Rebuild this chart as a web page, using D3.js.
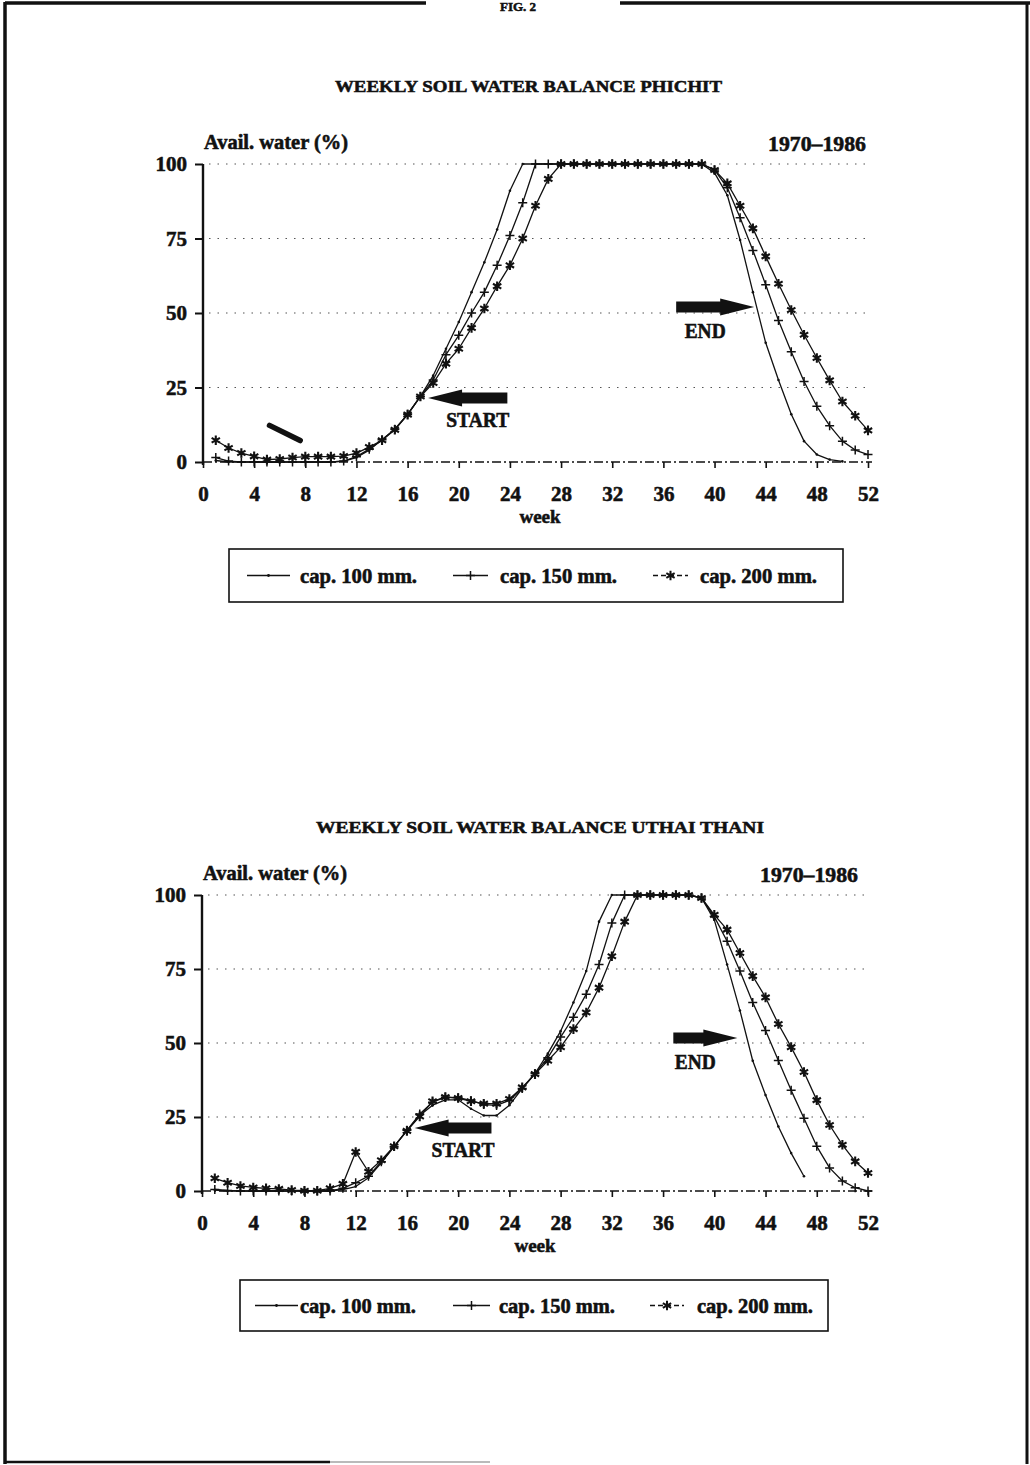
<!DOCTYPE html>
<html>
<head>
<meta charset="utf-8">
<script src="https://cdn.jsdelivr.net/npm/d3@7"></script>
<style>
  body { margin: 0; background: #fff; }
  svg { display: block; }
  text { font-family: "Liberation Serif", "DejaVu Serif", serif; font-weight: bold; fill: #111;
         stroke: #111; stroke-width: 0.55px; }
</style>
</head>
<body>
<div id="page"></div>
<script>
// weeks of the year (x categories)
const weeks = [1, 2, 3, 4, 5, 6, 7, 8, 9, 10, 11, 12, 13, 14, 15, 16, 17, 18, 19, 20, 21, 22, 23, 24, 25, 26,
               27, 28, 29, 30, 31, 32, 33, 34, 35, 36, 37, 38, 39, 40, 41, 42, 43, 44, 45, 46, 47, 48, 49, 50, 51, 52];
const xTicks = [0, 4, 8, 12, 16, 20, 24, 28, 32, 36, 40, 44, 48, 52];
const yTicks = [0, 25, 50, 75, 100];
const seriesNames = ['cap. 100 mm.', 'cap. 150 mm.', 'cap. 200 mm.'];
const titles = ['WEEKLY SOIL WATER BALANCE PHICHIT', 'WEEKLY SOIL WATER BALANCE UTHAI THANI'];
const yLabel = 'Avail. water (%)';
const xLabel = 'week';
const period = '1970\u20131986';

// available water (%), weeks 1..52
const phichitCap100 = [0.5, 0, 0, 0, 0, 0, 0, 0, 0, 0, 0.3, 1.5, 4, 7.5, 11, 16, 22, 29, 38, 47, 57, 67, 78, 91, 100, 100,
                       100, 100, 100, 100, 100, 100, 100, 100, 100, 100, 100, 100, 100, 97, 89.5, 74.5, 57, 40, 27.5, 16, 7, 2.5, 0.8, 0.2, null, null];
const phichitCap150 = [1.5, 0.3, 0, 0, 0, 0, 0, 0, 0, 0, 0.3, 1.8, 4.3, 7.5, 11, 16, 22, 27.5, 36, 42.5, 50, 57, 66, 76, 87, 100,
                       100, 100, 100, 100, 100, 100, 100, 100, 100, 100, 100, 100, 100, 98, 92, 82, 71, 59.5, 47.5, 37, 27, 18.7, 12.2, 7, 4, 2.5];
const phichitCap200 = [7.3, 4.7, 3, 1.9, 0.8, 1, 1.5, 1.8, 1.8, 1.8, 2, 3, 5, 7.3, 10.8, 15.9, 22, 26.5, 33, 38, 45, 51.5, 59, 66, 75, 86,
                       95, 100, 100, 100, 100, 100, 100, 100, 100, 100, 100, 100, 100, 98, 93.5, 86, 78.4, 69, 59.8, 51, 42.7, 34.9, 27.4, 20.3, 15.5, 10.6];

const uthaiCap100 = [0.3, 0, 0, 0, 0, 0, 0, 0, 0, 0, 0.5, 1.5, 4.5, 9.5, 15, 20.5, 25.5, 29, 30.8, 30.8, 27.8, 25.5, 25.5, 29, 34.6, 39.7,
                     46.4, 54, 63.7, 74.3, 91, 100, 100, 100, 100, 100, 100, 100, 99, 91.6, 76.5, 61, 44, 32.4, 21.8, 12.8, 5, null, null, null, null, null];
const uthaiCap150 = [0.5, 0.2, 0, 0, 0, 0, 0, 0, 0, 0, 0.9, 2.8, 5, 9.9, 15, 20.5, 26, 30, 31.7, 31.5, 30.6, 29.2, 28.9, 30.6, 34.6, 39.7,
                     45, 52, 58.7, 66.5, 76.5, 90.5, 100, 100, 100, 100, 100, 100, 99, 92.7, 84.4, 74.3, 63.7, 54.2, 44.1, 34, 24.6, 15.1, 7.8, 3.4, 1.1, 0];
const uthaiCap200 = [4.3, 2.8, 1.7, 1.2, 0.9, 0.7, 0.3, 0.1, 0.1, 0.9, 2.4, 13.2, 6.5, 10.4, 15.1, 20.3, 25.2, 30.3, 31.7, 31.4, 30.3, 29.5, 29.5, 31.1, 35, 39.5,
                     44, 48.6, 54.7, 60.3, 68.7, 79.3, 91, 100, 100, 100, 100, 100, 99, 93.3, 88.3, 80.4, 72.6, 65.4, 56.4, 48.6, 40.2, 30.7, 22.3, 15.6, 10, 6.1];

// START / END arrows: [tip week, tail week, value]
const startArrows = [[17.6, 23.8, 21.5], [16.6, 22.6, 21.3]];
const endArrows = [[43.1, 37.0, 52], [41.8, 36.8, 51.7]];

const W = 1030, H = 1465;
const svg = d3.select('#page').append('svg').attr('width', W).attr('height', H);

// page frame of the scanned sheet
const frame = svg.append('g').attr('stroke', '#111').attr('fill', 'none');
frame.append('line').attr('x1', 5).attr('y1', 3).attr('x2', 426).attr('y2', 3).attr('stroke-width', 3.5);
frame.append('line').attr('x1', 620).attr('y1', 3).attr('x2', 1030).attr('y2', 3).attr('stroke-width', 3.5);
frame.append('line').attr('x1', 5).attr('y1', 2).attr('x2', 5).attr('y2', 1464).attr('stroke-width', 3.5);
frame.append('line').attr('x1', 1027).attr('y1', 2).attr('x2', 1027).attr('y2', 1464).attr('stroke-width', 3);
frame.append('line').attr('x1', 5).attr('y1', 1462).attr('x2', 330).attr('y2', 1462).attr('stroke-width', 2.5);
frame.append('line').attr('x1', 330).attr('y1', 1462).attr('x2', 490).attr('y2', 1462).attr('stroke-width', 1.2).attr('stroke', '#777');
svg.append('text').attr('x', 518).attr('y', 11).attr('text-anchor', 'middle').style('font-size', '13px').text('FIG. 2');

function fit(sel, len) {
  return sel.attr('textLength', len).attr('lengthAdjust', 'spacingAndGlyphs');
}

const plusPath = 'M-4.5,0H4.5M0,-4.5V4.5';
const starPath = (() => {
  const r = 4.8, parts = [];
  [90, 30, 150].forEach(a => {
    const c = Math.cos(a * Math.PI / 180) * r, s = Math.sin(a * Math.PI / 180) * r;
    parts.push(`M${-c},${-s}L${c},${s}`);
  });
  return parts.join('');
})();

function arrowPath(xTip, xTail, y) {
  const dir = xTail > xTip ? 1 : -1;
  const xb = xTip + 34 * dir, bh = 5.5, hh = 8.5;
  return `M${xTip},${y}L${xb},${y - hh}L${xb},${y - bh}L${xTail},${y - bh}L${xTail},${y + bh}L${xb},${y + bh}L${xb},${y + hh}Z`;
}

function drawPanel(cfg, series, startA, endA) {
  const x = d3.scaleLinear().domain([0, 52]).range([cfg.x0, cfg.x1]);
  const y = d3.scaleLinear().domain([0, 100]).range([cfg.yBot, cfg.yTop]);
  const g = svg.append('g');

  fit(g.append('text').attr('x', cfg.titleX).attr('y', cfg.titleY).style('font-size', '17px').text(cfg.title), cfg.titleW);
  fit(g.append('text').attr('x', cfg.x0 + 1).attr('y', cfg.yTop - 15).style('font-size', '20px').text(yLabel), 144);
  fit(g.append('text').attr('x', cfg.periodX).attr('y', cfg.yTop - 13).style('font-size', '20px').text(period), 98);

  // dotted gridlines
  g.append('g').selectAll('line').data(yTicks.filter(v => v > 0)).join('line')
    .attr('x1', cfg.x0 + 6).attr('x2', cfg.x1 + 2)
    .attr('y1', d => y(d)).attr('y2', d => y(d))
    .attr('stroke', '#555').attr('stroke-width', 1.2).attr('stroke-dasharray', '1.5,7');

  // axes
  const yAxis = g.append('g').attr('transform', `translate(${cfg.x0},0)`)
    .call(d3.axisLeft(y).tickValues(yTicks).tickSize(8).tickPadding(8));
  yAxis.select('.domain').remove();
  yAxis.selectAll('line').attr('stroke', '#111').attr('stroke-width', 2);
  yAxis.selectAll('text').style('font-size', '21px').attr('fill', '#111');

  const xAxis = g.append('g').attr('transform', `translate(0,${cfg.yBot})`)
    .call(d3.axisBottom(x).tickValues(xTicks).tickSize(6).tickPadding(18));
  xAxis.select('.domain').remove();
  xAxis.selectAll('line').attr('stroke', '#111').attr('stroke-width', 1.6);
  xAxis.selectAll('text').style('font-size', '21px').attr('fill', '#111');

  g.append('line').attr('x1', cfg.x0).attr('x2', cfg.x1 + 4).attr('y1', y(0)).attr('y2', y(0))
    .attr('stroke', '#111').attr('stroke-width', 1.6).attr('stroke-dasharray', '9,3,2,3');
  g.append('line').attr('x1', cfg.x0).attr('x2', cfg.x0).attr('y1', y(0) + 3).attr('y2', y(100))
    .attr('stroke', '#111').attr('stroke-width', 2.4);

  g.append('text').attr('x', cfg.weekX).attr('y', cfg.yBot + 61).attr('text-anchor', 'middle')
    .style('font-size', '19px').text(xLabel);

  // series
  const line = d3.line()
    .defined(d => d.v != null)
    .x(d => x(d.w))
    .y(d => y(d.v));

  series.forEach((vals, i) => {
    const pts = weeks.map((w, j) => ({ w: w, v: vals[j] }));
    g.append('path').datum(pts)
      .attr('fill', 'none').attr('stroke', '#111').attr('stroke-width', 1.3)
      .attr('stroke-linejoin', 'round').attr('d', line);
    const m = g.append('g').selectAll('.m' + i).data(pts.filter(d => d.v != null)).join(i === 0 ? 'circle' : 'path')
      .attr('class', 'm' + i);
    if (i === 0) {
      m.attr('cx', d => x(d.w)).attr('cy', d => y(d.v)).attr('r', 1.3).attr('fill', '#111');
    } else {
      m.attr('transform', d => `translate(${x(d.w)},${y(d.v)})`)
        .attr('d', i === 1 ? plusPath : starPath)
        .attr('fill', 'none').attr('stroke', '#111').attr('stroke-width', i === 1 ? 1.5 : 2.1);
    }
  });

  // START / END arrows
  const sy = y(startA[2]), sTip = x(startA[0]), sTail = x(startA[1]);
  g.append('path').attr('d', arrowPath(sTip, sTail, sy)).attr('fill', '#111');
  fit(g.append('text').attr('x', (sTip + sTail) / 2 + 10).attr('y', sy + 29).attr('text-anchor', 'middle')
    .style('font-size', '20px').text('START'), 63);
  const ey = y(endA[2]), eTip = x(endA[0]), eTail = x(endA[1]);
  g.append('path').attr('d', arrowPath(eTip, eTail, ey)).attr('fill', '#111');
  fit(g.append('text').attr('x', (eTip + eTail) / 2 - 10).attr('y', ey + 31).attr('text-anchor', 'middle')
    .style('font-size', '20px').text('END'), 41);

  if (cfg.penMark) {
    g.append('line')
      .attr('x1', x(cfg.penMark[0][0])).attr('y1', y(cfg.penMark[0][1]))
      .attr('x2', x(cfg.penMark[1][0])).attr('y2', y(cfg.penMark[1][1]))
      .attr('stroke', '#111').attr('stroke-width', 5.5).attr('stroke-linecap', 'round');
  }

  // legend
  const lg = g.append('g');
  lg.append('rect').attr('x', cfg.legend.x).attr('y', cfg.legend.y)
    .attr('width', cfg.legend.w).attr('height', cfg.legend.h)
    .attr('fill', 'none').attr('stroke', '#111').attr('stroke-width', 1.6);
  const ly = cfg.legend.y + cfg.legend.h / 2;
  seriesNames.forEach((name, i) => {
    const [a, b] = cfg.legend.samples[i];
    lg.append('line').attr('x1', a).attr('x2', b).attr('y1', ly).attr('y2', ly)
      .attr('stroke', '#111').attr('stroke-width', 1.3)
      .attr('stroke-dasharray', i === 2 ? '5,3' : null);
    if (i === 0) {
      lg.append('circle').attr('cx', (a + b) / 2).attr('cy', ly).attr('r', 1.4).attr('fill', '#111');
    } else {
      lg.append('path').attr('transform', `translate(${(a + b) / 2},${ly})`)
        .attr('d', i === 1 ? plusPath : starPath)
        .attr('fill', 'none').attr('stroke', '#111').attr('stroke-width', i === 1 ? 1.5 : 2);
    }
    fit(lg.append('text').attr('x', cfg.legend.textX[i]).attr('y', ly + 7)
      .style('font-size', '20px').text(name), cfg.legend.textW);
  });
}

drawPanel({
  title: titles[0], titleX: 335, titleW: 387, titleY: 92,
  x0: 203, x1: 868, yTop: 164, yBot: 462, periodX: 768, weekX: 540,
  penMark: [[5.2, 12.3], [7.6, 7.2]],
  legend: { x: 229, y: 549, w: 614, h: 53, samples: [[247, 290], [453, 488], [653, 688]], textX: [300, 500, 700], textW: 117 }
}, [phichitCap100, phichitCap150, phichitCap200], startArrows[0], endArrows[0]);

drawPanel({
  title: titles[1], titleX: 316, titleW: 448, titleY: 833,
  x0: 202, x1: 868, yTop: 895, yBot: 1191, periodX: 760, weekX: 535,
  penMark: null,
  legend: { x: 240, y: 1280, w: 588, h: 51, samples: [[255, 298], [453, 490], [650, 684]], textX: [300, 499, 697], textW: 116 }
}, [uthaiCap100, uthaiCap150, uthaiCap200], startArrows[1], endArrows[1]);
</script>
</body>
</html>
